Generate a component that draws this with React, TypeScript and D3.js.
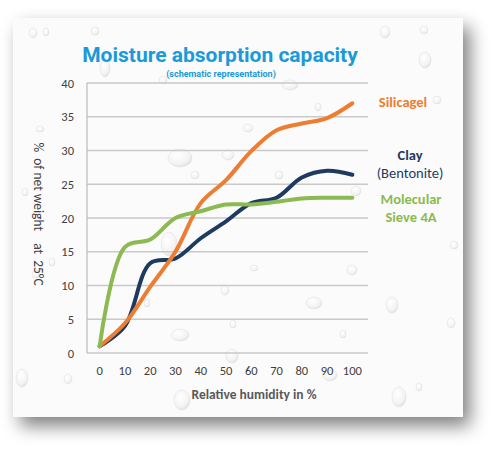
import { useMemo } from 'react';
import * as d3 from 'd3';

const humidity = ['0', '10', '20', '30', '40', '50', '60', '70', '80', '90', '100'];
const silicagel = [1, 4.4, 9.8, 15, 22.2, 25.6, 29.9, 33, 34, 34.8, 37];
const clay = [1, 4, 13.3, 14, 17, 19.5, 22.2, 23, 26, 27, 26.4];
const sieve = [1, 15.7, 16.8, 20, 21, 22, 22, 22.4, 22.9, 23, 23];
const yTicks = [0, 5, 10, 15, 20, 25, 30, 35, 40];

const W = 500;
const H = 449;
const PLOT = { left: 87, right: 365, top: 83, bottom: 353 };
const FONT = 'Calibri, Carlito, "Open Sans", "DejaVu Sans", sans-serif';

const SERIES = [
  { name: 'Clay', values: clay, color: '#1f3a60' },
  { name: 'Silicagel', values: silicagel, color: '#ed7d31' },
  { name: 'Sieve', values: sieve, color: '#8cba52' },
];

// fixed decorative droplets on the card
const drops: [number, number, number, number][] = [
  [33, 33, 4, 5], [46, 32, 3, 4], [95, 31, 4, 4], [105, 68, 5, 9], [163, 80, 4, 4],
  [290, 85, 8, 5], [385, 32, 5, 6], [424, 30, 4, 4], [425, 60, 6, 8], [437, 100, 4, 4],
  [180, 158, 12, 9], [195, 175, 4, 4], [228, 155, 6, 5], [248, 128, 5, 4], [318, 107, 3, 4],
  [169, 244, 8, 12], [254, 268, 4, 3], [147, 303, 3, 4], [225, 290, 4, 5], [180, 335, 9, 6],
  [233, 324, 3, 4], [314, 303, 8, 6], [343, 334, 3, 4], [352, 270, 5, 5], [454, 245, 4, 4],
  [392, 305, 6, 8], [451, 323, 4, 5], [36, 274, 4, 4], [22, 378, 6, 9], [68, 379, 4, 5],
  [232, 356, 6, 7], [182, 400, 8, 10], [330, 375, 7, 6], [399, 397, 7, 10], [419, 387, 3, 4],
  [40, 129, 4, 3], [25, 192, 3, 4], [52, 262, 3, 4], [356, 191, 5, 5], [279, 175, 4, 4],
];

export default function App() {
  const x = useMemo(
    () => d3.scaleBand<string>().domain(humidity).range([PLOT.left, PLOT.right]),
    [],
  );
  const y = useMemo(
    () => d3.scaleLinear().domain([0, 40]).range([PLOT.bottom, PLOT.top]),
    [],
  );
  const cx = (d: string) => (x(d) ?? 0) + x.bandwidth() / 2;

  const line = d3
    .line<number>()
    .x((_, i) => cx(humidity[i]))
    .y((v) => y(v))
    .curve(d3.curveCatmullRom.alpha(0.5));

  return (
    <div style={{ position: 'absolute', left: 0, top: 0 }}>
      <svg width={W} height={H} style={{ display: 'block', background: '#fff' }}>
        <defs>
          <filter id="shadow" x="-10%" y="-10%" width="130%" height="130%">
            <feGaussianBlur in="SourceAlpha" stdDeviation="9" />
            <feOffset dx="7" dy="9" result="b" />
            <feComponentTransfer>
              <feFuncA type="linear" slope="0.5" />
            </feComponentTransfer>
            <feMerge>
              <feMergeNode />
              <feMergeNode in="SourceGraphic" />
            </feMerge>
          </filter>
          <radialGradient id="drop" cx="40%" cy="35%" r="70%">
            <stop offset="0%" stopColor="#ffffff" />
            <stop offset="70%" stopColor="#f3f3f3" />
            <stop offset="100%" stopColor="#dcdcdc" />
          </radialGradient>
        </defs>

        <rect x={13} y={18} width={450} height={399} fill="#fbfbfb" filter="url(#shadow)" />
        <g>
          {drops.map(([dx, dy, rx, ry], i) => (
            <ellipse key={i} cx={dx} cy={dy} rx={rx} ry={ry} fill="url(#drop)" stroke="#e2e2e2" strokeWidth={0.6} />
          ))}
        </g>

        <text x={220} y={62} textAnchor="middle" fontFamily="Roboto, sans-serif" fontWeight={700} fontSize={21} fill="#1a9ad9">
          Moisture absorption capacity
        </text>
        <text x={221} y={77} textAnchor="middle" fontFamily="Roboto, sans-serif" fontWeight={700} fontSize={9} fill="#1a9ad9">
          (schematic representation)
        </text>

        {yTicks.map((t) => (
          <g key={t}>
            <line x1={PLOT.left} x2={PLOT.right + 3} y1={y(t)} y2={y(t)} stroke="#c9c9c9" strokeWidth={1.3} />
            <text x={74} y={y(t) + 4.5} textAnchor="end" fontFamily={FONT} fontSize={12.5} fill="#404040">
              {t}
            </text>
          </g>
        ))}
        <line x1={PLOT.left} x2={PLOT.left} y1={PLOT.top} y2={PLOT.bottom} stroke="#bfbfbf" strokeWidth={1.3} />

        {humidity.map((h) => (
          <text key={h} x={cx(h)} y={375} textAnchor="middle" fontFamily={FONT} fontSize={12.5} fill="#404040">
            {h}
          </text>
        ))}

        <text x={254} y={399} textAnchor="middle" fontFamily={FONT} fontWeight={700} fontSize={13.5} fill="#595959">
          Relative humidity in %
        </text>
        <text
          transform={`translate(34,214) rotate(90)`}
          textAnchor="middle"
          fontFamily={FONT}
          fontSize={13.5}
          fill="#404040"
          xmlSpace="preserve"
          style={{ whiteSpace: 'pre' }}
        >
          {'%  of net weight    at  25°C'}
        </text>

        {SERIES.map((s) => (
          <path
            key={s.name}
            d={line(s.values) ?? ''}
            fill="none"
            stroke={s.color}
            strokeWidth={4}
            strokeLinecap="round"
            strokeLinejoin="round"
          />
        ))}

        <g fontFamily={FONT} textAnchor="middle" fontSize={14.5}>
          <text x={403} y={107} fontWeight={700} fill="#ed7d31">Silicagel</text>
          <text x={410} y={160} fontWeight={700} fill="#1f3a60">Clay</text>
          <text x={410} y={178} fill="#1f3a60">(Bentonite)</text>
          <text x={411} y={204} fontWeight={700} fill="#8cba52">Molecular</text>
          <text x={411} y={222} fontWeight={700} fill="#8cba52">Sieve 4A</text>
        </g>
      </svg>
    </div>
  );
}
